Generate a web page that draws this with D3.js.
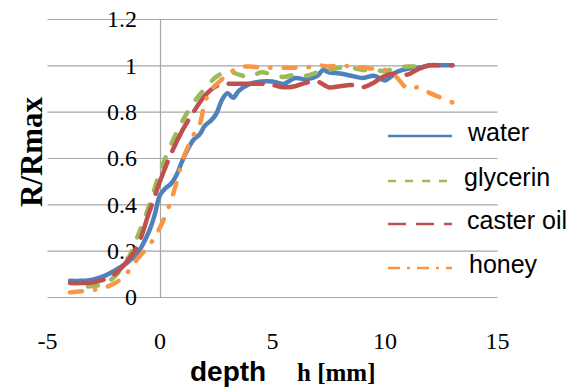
<!DOCTYPE html>
<html>
<head>
<meta charset="utf-8">
<script src="https://cdn.jsdelivr.net/npm/d3@7"></script>
<style>
  body { margin: 0; background: #fff; }
  svg { display: block; }
  .serif { font-family: "Liberation Serif", "Times New Roman", "DejaVu Serif", serif; }
  .sans { font-family: "Liberation Sans", Arial, "DejaVu Sans", sans-serif; }
</style>
</head>
<body>
<svg id="chart" width="582" height="388"></svg>
<script>
// values: [depth h (mm), R/Rmax]
const water = [
  [-4.0, 0.07], [-3.5, 0.07], [-3.0, 0.075], [-2.5, 0.09], [-2.0, 0.115], [-1.5, 0.145],
  [-1.0, 0.19], [-0.5, 0.28], [-0.25, 0.35], [0, 0.44], [0.25, 0.47], [0.5, 0.49],
  [0.75, 0.53], [1.0, 0.59], [1.25, 0.64], [1.5, 0.68], [1.75, 0.7], [2.0, 0.74],
  [2.25, 0.76], [2.5, 0.79], [2.75, 0.85], [3.0, 0.88], [3.25, 0.86], [3.5, 0.89],
  [4.0, 0.92], [4.5, 0.93], [5.0, 0.93], [5.5, 0.92], [6.0, 0.945], [6.5, 0.94],
  [7.0, 0.955], [7.25, 0.98], [7.5, 0.97], [8.0, 0.965], [8.5, 0.955], [9.0, 0.945],
  [9.5, 0.955], [10.0, 0.935], [10.25, 0.95], [10.5, 0.97], [11.0, 0.985], [11.5, 0.99],
  [12.0, 1.0], [12.5, 1.0], [13.0, 1.0]
];
const glycerin = [
  [-3.2, 0.045], [-2.5, 0.055], [-2.0, 0.09], [-1.5, 0.15], [-1.0, 0.26], [-0.5, 0.39],
  [0, 0.54], [0.5, 0.66], [1.0, 0.76], [1.5, 0.84], [2.0, 0.9], [2.5, 0.95],
  [3.0, 0.975], [3.5, 0.96], [4.0, 0.95], [4.5, 0.97], [5.0, 0.96], [5.5, 0.95],
  [6.0, 0.96], [6.5, 0.955], [7.0, 0.97], [7.5, 0.98], [8.0, 0.99], [8.5, 0.99],
  [9.0, 0.98], [9.5, 0.98], [10.0, 0.975], [10.5, 0.99], [11.0, 0.995], [11.7, 0.995]
];
const casterOil = [
  [-4.0, 0.06], [-3.5, 0.06], [-3.0, 0.062], [-2.5, 0.075], [-2.0, 0.1], [-1.5, 0.15],
  [-1.0, 0.22], [-0.5, 0.36], [0, 0.5], [0.5, 0.62], [1.0, 0.72], [1.5, 0.8],
  [2.0, 0.87], [2.5, 0.91], [3.0, 0.92], [3.5, 0.92], [4.0, 0.92], [4.5, 0.92],
  [5.0, 0.915], [5.5, 0.905], [6.0, 0.91], [6.5, 0.925], [7.0, 0.93], [7.5, 0.905],
  [8.0, 0.91], [8.5, 0.915], [9.0, 0.905], [9.5, 0.925], [10.0, 0.955], [10.5, 0.965],
  [11.0, 0.96], [11.5, 0.985], [12.0, 1.0], [12.5, 1.0], [13.0, 1.0]
];
const honey = [
  [-4.0, 0.02], [-3.5, 0.025], [-3.0, 0.03], [-2.5, 0.04], [-2.0, 0.06], [-1.5, 0.1],
  [-1.0, 0.165], [-0.5, 0.22], [0, 0.3], [0.5, 0.42], [0.75, 0.5], [1.0, 0.59],
  [1.25, 0.65], [1.5, 0.7], [1.75, 0.74], [2.0, 0.84], [2.25, 0.89], [2.75, 0.94],
  [3.0, 0.96], [3.5, 0.99], [4.0, 0.995], [4.5, 0.99], [5.0, 0.99], [5.5, 0.99],
  [6.0, 0.99], [6.5, 0.99], [7.0, 1.0], [7.5, 0.995], [8.0, 1.0], [8.5, 0.995],
  [9.0, 0.99], [9.5, 0.985], [10.0, 0.98], [10.5, 0.95], [11.0, 0.9], [11.5, 0.905],
  [12.0, 0.88], [12.5, 0.86], [13.0, 0.84]
];

const seriesNames = ["water", "glycerin", "caster oil", "honey"];
const seriesData = [water, glycerin, casterOil, honey];
const xTicks = [-5, 0, 5, 10, 15];
const yTicks = [0, 0.2, 0.4, 0.6, 0.8, 1, 1.2];

const colors = ["#4F81BD", "#9BBB59", "#C0504D", "#F79646"];
const dashes = [null, "10,15", "34,12", "12,13,0.5,13"];
const legendDashes = [null, "8,9", "18,10", "12,7,3,7"];

const svg = d3.select("#chart");

const x = d3.scaleLinear().domain([-5, 15]).range([47.5, 497.5]);
const y = d3.scaleLinear().domain([0, 1.2]).range([297, 19]);

// horizontal gridlines
svg.append("g")
  .selectAll("line")
  .data(yTicks)
  .join("line")
  .attr("x1", x(-5))
  .attr("x2", x(15))
  .attr("y1", d => y(d) + 0.5)
  .attr("y2", d => y(d) + 0.5)
  .attr("stroke", "#a6a6a6")
  .attr("stroke-width", 1.2);

// vertical axis line at h = 0
svg.append("line")
  .attr("x1", x(0) + 0.5)
  .attr("x2", x(0) + 0.5)
  .attr("y1", y(1.2))
  .attr("y2", y(0))
  .attr("stroke", "#a6a6a6")
  .attr("stroke-width", 1.2);

// y tick labels (sit on top of the gridlines)
svg.append("g")
  .selectAll("text")
  .data(yTicks)
  .join("text")
  .attr("class", "serif")
  .attr("x", 137)
  .attr("y", d => y(d))
  .attr("dy", "0.35em")
  .attr("text-anchor", "end")
  .style("font-size", "24px")
  .text(d => d3.format("")(d));

// x tick labels
svg.append("g")
  .selectAll("text")
  .data(xTicks)
  .join("text")
  .attr("class", "serif")
  .attr("x", d => x(d))
  .attr("y", 349)
  .attr("text-anchor", "middle")
  .style("font-size", "24px")
  .text(d => d);

// data lines
const line = d3.line()
  .x(d => x(d[0]))
  .y(d => y(d[1]))
  .curve(d3.curveCatmullRom.alpha(0.5));

seriesData.forEach((data, i) => {
  svg.append("path")
    .datum(data)
    .attr("d", line)
    .attr("fill", "none")
    .attr("stroke", colors[i])
    .attr("stroke-width", 4.5)
    .attr("stroke-linecap", "round")
    .attr("stroke-linejoin", "round")
    .attr("stroke-dasharray", dashes[i]);
});

// legend
const legendY = [136, 181, 224, 268];
const legendTextX = [468, 464, 467, 469];
seriesNames.forEach((name, i) => {
  svg.append("line")
    .attr("x1", 388)
    .attr("x2", 452)
    .attr("y1", legendY[i])
    .attr("y2", legendY[i])
    .attr("stroke", colors[i])
    .attr("stroke-width", 2.5)
    .attr("stroke-dasharray", legendDashes[i]);
  svg.append("text")
    .attr("class", "sans")
    .attr("x", legendTextX[i])
    .attr("y", legendY[i] + 5)
    .style("font-size", "25px")
    .text(name);
});

// axis titles
svg.append("text")
  .attr("class", "serif")
  .attr("transform", "translate(42,152) rotate(-90)")
  .attr("text-anchor", "middle")
  .style("font-weight", "bold")
  .style("font-size", "31px")
  .text("R/Rmax");

svg.append("text")
  .attr("class", "sans")
  .attr("x", 190)
  .attr("y", 381)
  .style("font-weight", "bold")
  .style("font-size", "28px")
  .text("depth");

svg.append("text")
  .attr("class", "serif")
  .attr("x", 297)
  .attr("y", 381)
  .style("font-weight", "bold")
  .style("font-size", "25px")
  .text("h [mm]");
</script>
</body>
</html>
